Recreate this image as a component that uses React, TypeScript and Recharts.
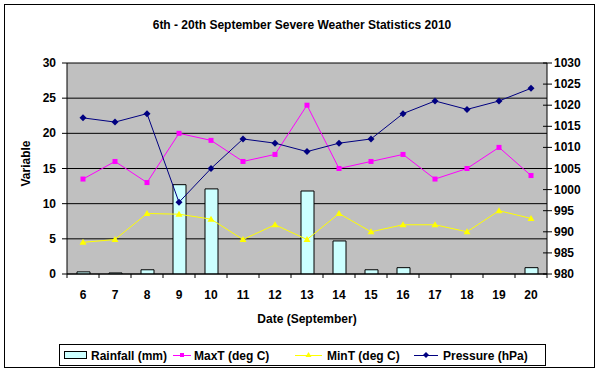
import React from 'react';
import { ComposedChart, Bar, Line, XAxis, YAxis, CartesianGrid, Legend } from 'recharts';

const days = ['6', '7', '8', '9', '10', '11', '12', '13', '14', '15', '16', '17', '18', '19', '20'];
const rainfall = [0.3, 0.15, 0.6, 12.7, 12.1, 0, 0, 11.8, 4.7, 0.6, 0.9, 0, 0, 0, 0.9];
const maxT = [13.5, 16, 13, 20, 19, 16, 17, 24, 15, 16, 17, 13.5, 15, 18, 14];
const minT = [4.5, 4.9, 8.6, 8.5, 7.8, 4.9, 7.0, 4.9, 8.6, 6.0, 7.0, 7.0, 6.0, 9.0, 7.9];
const pressure = [1017, 1016, 1018, 997, 1005, 1012, 1011, 1009, 1011, 1012, 1018, 1021, 1019, 1021, 1024];
const leftTicks = [0, 5, 10, 15, 20, 25, 30];
const rightTicks = [980, 985, 990, 995, 1000, 1005, 1010, 1015, 1020, 1025, 1030];

const data = days.map((d, i) => ({
  day: d,
  rainfall: rainfall[i],
  maxT: maxT[i],
  minT: minT[i],
  pressure: pressure[i],
}));

const FONT = "'Liberation Sans', Arial, sans-serif";
const MAG = '#FF00FF';
const YEL = '#FFFF00';
const NAVY = '#000080';
const BARFILL = '#CCFFFF';

const SquareDot = (p: any) =>
  p.cx == null ? null : <rect key={p.key} x={p.cx - 2.5} y={p.cy - 2.5} width={5} height={5} fill={MAG} />;
const TriangleDot = (p: any) =>
  p.cx == null ? null : (
    <polygon key={p.key} points={`${p.cx},${p.cy - 3.5} ${p.cx + 3.5},${p.cy + 2.5} ${p.cx - 3.5},${p.cy + 2.5}`} fill={YEL} />
  );
const DiamondDot = (p: any) =>
  p.cx == null ? null : (
    <polygon key={p.key} points={`${p.cx},${p.cy - 3.5} ${p.cx + 3.5},${p.cy} ${p.cx},${p.cy + 3.5} ${p.cx - 3.5},${p.cy}`} fill={NAVY} />
  );

const XTick = (p: any) => {
  const off = p.payload && typeof p.payload.offset === 'number' && p.payload.offset > 0 ? p.payload.offset : 16;
  const last = p.index === (p.visibleTicksCount ?? days.length) - 1;
  return (
    <g>
      <line x1={p.x - off} x2={p.x - off} y1={p.y - 4} y2={p.y} stroke="#000" />
      {last && <line x1={p.x + off} x2={p.x + off} y1={p.y - 4} y2={p.y} stroke="#000" />}
      <text x={p.x} y={p.y + 21} textAnchor="middle" fontFamily={FONT} fontSize={12} fontWeight="bold" fill="#000">
        {p.payload.value}
      </text>
    </g>
  );
};

const LeftTick = (p: any) => (
  <text x={p.x} y={p.y + 4} textAnchor="end" fontFamily={FONT} fontSize={12} fontWeight="bold" fill="#000">
    {p.payload.value}
  </text>
);

const RightTick = (p: any) => (
  <g>
    <line x1={p.x - 11} x2={p.x - 2} y1={p.y} y2={p.y} stroke="#000" />
    <text x={p.x} y={p.y + 4} textAnchor="start" fontFamily={FONT} fontSize={12} fontWeight="bold" fill="#000">
      {p.payload.value}
    </text>
  </g>
);

const YLabel = (props: any) => {
  const vb = props.viewBox || { x: 0, y: 63, width: 67, height: 211 };
  const cx = vb.x + 26;
  const cy = vb.y + vb.height / 2 - 5;
  return (
    <text x={cx} y={cy} transform={`rotate(-90 ${cx} ${cy})`} textAnchor="middle" dominantBaseline="central"
      fontFamily={FONT} fontSize={12} fontWeight="bold" fill="#000">
      Variable
    </text>
  );
};

const XLabel = (props: any) => {
  const vb = props.viewBox || { x: 67, y: 274, width: 480, height: 60 };
  return (
    <text x={vb.x + vb.width / 2} y={vb.y + 49} textAnchor="middle" fontFamily={FONT} fontSize={12} fontWeight="bold" fill="#000">
      Date (September)
    </text>
  );
};

const legendItems = [
  { name: 'Rainfall (mm)', kind: 'bar', color: BARFILL, iconX: 5, textX: 32 },
  { name: 'MaxT (deg C)', kind: 'square', color: MAG, iconX: 114, textX: 135 },
  { name: 'MinT (deg C)', kind: 'triangle', color: YEL, iconX: 236, textX: 268 },
  { name: 'Pressure (hPa)', kind: 'diamond', color: NAVY, iconX: 355, textX: 384 },
];

const LegendContent = () => (
  <svg width={487} height={22} style={{ display: 'block' }}>
    <rect x={0.5} y={0.5} width={486} height={21} fill="#fff" stroke="#000" />
    {legendItems.map((it) => {
      const cy = 11;
      let icon: any = null;
      if (it.kind === 'bar') {
        icon = <rect x={it.iconX + 0.5} y={cy - 3.5} width={22} height={7} fill={it.color} stroke="#000" />;
      } else {
        const w = it.kind === 'square' ? 18 : it.kind === 'triangle' ? 27 : 24;
        const mx = it.iconX + w / 2;
        let marker: any;
        if (it.kind === 'square') marker = <rect x={mx - 2} y={cy - 2} width={4} height={4} fill={it.color} />;
        else if (it.kind === 'triangle')
          marker = <polygon points={`${mx},${cy - 3} ${mx + 3},${cy + 2} ${mx - 3},${cy + 2}`} fill={it.color} />;
        else marker = <polygon points={`${mx},${cy - 3} ${mx + 3},${cy} ${mx},${cy + 3} ${mx - 3},${cy}`} fill={it.color} />;
        icon = (
          <g>
            <line x1={it.iconX} x2={it.iconX + w} y1={cy + 0.5} y2={cy + 0.5} stroke={it.color} />
            {marker}
          </g>
        );
      }
      return (
        <g key={it.name}>
          {icon}
          <text x={it.textX} y={cy + 4.5} fontFamily={FONT} fontSize={12} fontWeight="bold" fill="#000">
            {it.name}
          </text>
        </g>
      );
    })}
  </svg>
);

export default function App() {
  return (
    <div style={{ position: 'absolute', left: 0, top: 0, width: 604, height: 371, background: '#fff', fontFamily: FONT }}>
      <div style={{ position: 'absolute', left: 4, top: 4, width: 591, height: 364, border: '1px solid #000', boxSizing: 'border-box' }} />
      <div style={{ position: 'absolute', left: 0, top: 16, width: 604, textAlign: 'center', fontSize: 12, fontWeight: 'bold', lineHeight: '18px', color: '#000' }}>
        6th - 20th September Severe Weather Statistics 2010
      </div>
      <div style={{ position: 'absolute', left: 0, top: 0 }}>
        <ComposedChart width={604} height={371} data={data} margin={{ top: 63, right: 0, bottom: 37, left: 0 }}>
          <CartesianGrid yAxisId="left" horizontal vertical={false} stroke="#000" fill="#C0C0C0" fillOpacity={1} />
          <XAxis dataKey="day" height={60} tickSize={4} tickMargin={0} tickLine={false}
            axisLine={{ stroke: '#000' }} tick={<XTick />} interval={0} label={{ content: <XLabel /> }} />
          <YAxis yAxisId="left" orientation="left" width={67} domain={[0, 30]} ticks={leftTicks} interval={0}
            tickSize={5} tickMargin={6} tickLine={{ stroke: '#000' }} axisLine={{ stroke: '#000' }}
            tick={<LeftTick />} label={{ content: <YLabel /> }} allowDataOverflow />
          <YAxis yAxisId="right" orientation="right" width={57} domain={[980, 1030]} ticks={rightTicks} interval={0}
            tickSize={5} tickMargin={2} tickLine={false} axisLine={{ stroke: '#000' }}
            tick={<RightTick />} allowDataOverflow />
          <Legend layout="horizontal" verticalAlign="middle" align="center"
            wrapperStyle={{ left: 59, top: 344, width: 487, height: 22 }} content={<LegendContent />} />
          <Bar yAxisId="left" dataKey="rainfall" name="Rainfall (mm)" fill={BARFILL} stroke="#000" strokeWidth={1}
            barSize={13} isAnimationActive={false} />
          <Line yAxisId="left" dataKey="maxT" name="MaxT (deg C)" stroke={MAG} strokeWidth={1} dot={<SquareDot />}
            activeDot={false} isAnimationActive={false} />
          <Line yAxisId="left" dataKey="minT" name="MinT (deg C)" stroke={YEL} strokeWidth={1} dot={<TriangleDot />}
            activeDot={false} isAnimationActive={false} />
          <Line yAxisId="right" dataKey="pressure" name="Pressure (hPa)" stroke={NAVY} strokeWidth={1} dot={<DiamondDot />}
            activeDot={false} isAnimationActive={false} />
        </ComposedChart>
      </div>
    </div>
  );
}
